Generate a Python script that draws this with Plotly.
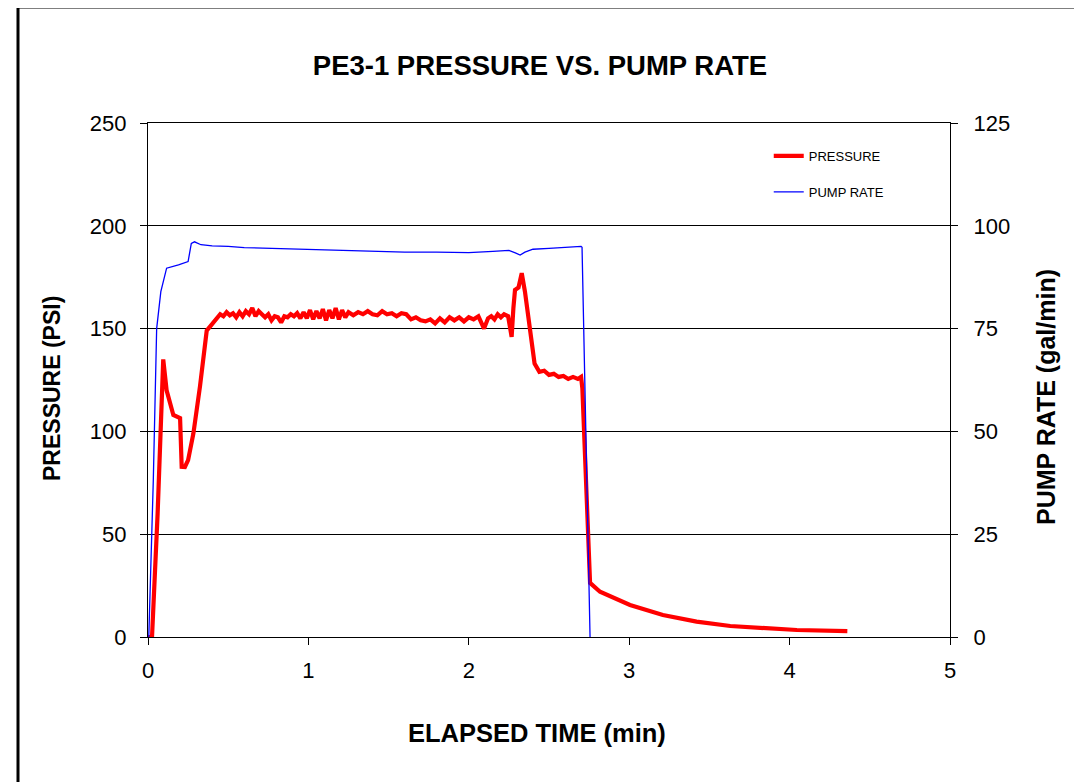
import plotly.graph_objects as go

# ---------------- data ----------------
pressure_t = [0.00, 0.025, 0.06, 0.095, 0.116, 0.158, 0.20, 0.21, 0.23, 0.25, 0.283, 0.324, 0.366, 0.43,
              0.45, 0.47, 0.49, 0.51, 0.53, 0.55, 0.57, 0.59, 0.61, 0.63, 0.65, 0.67, 0.69, 0.71, 0.73,
              0.75, 0.77, 0.79, 0.81, 0.83, 0.85, 0.87, 0.89, 0.91, 0.93, 0.95, 0.97, 0.99, 1.01, 1.03,
              1.05, 1.07, 1.09, 1.11, 1.13, 1.15, 1.17, 1.19, 1.21, 1.23, 1.25, 1.28, 1.31, 1.34, 1.37,
              1.40, 1.43, 1.46, 1.49, 1.52, 1.55, 1.58, 1.61, 1.64, 1.67, 1.70, 1.73, 1.76, 1.79, 1.82,
              1.85, 1.88, 1.91, 1.94, 1.97, 2.00, 2.03, 2.06, 2.08, 2.095, 2.12, 2.14, 2.16, 2.18, 2.20,
              2.22, 2.245, 2.258, 2.267, 2.278, 2.288, 2.31, 2.33, 2.35, 2.37, 2.39, 2.41, 2.44, 2.47,
              2.50, 2.53, 2.56, 2.59, 2.62, 2.65, 2.68, 2.70, 2.708, 2.756, 2.818, 3.005, 3.21, 3.42,
              3.63, 3.835, 4.045, 4.36]
pressure_psi = [0, 0, 60, 135, 120, 108, 106.5, 82.8, 82.7, 86, 99, 121.8, 149, 155,
                157, 156, 158, 156.5, 157.5, 155.5, 158, 156, 158.5, 157, 160, 156, 158.5, 157, 155.5,
                157, 154, 156, 155.5, 153, 156, 155.5, 157, 156, 157.5, 155, 158, 155, 159, 154.5,
                158.5, 155, 159.5, 154, 159, 155, 160, 154.5, 159, 155.5, 158, 156.5, 158, 157, 158.5,
                157, 156.5, 158.5, 157, 157.5, 156, 157.5, 157, 154.5, 155.5, 154, 153.5, 154.5, 152.5, 155,
                153, 155.5, 154, 155.5, 153.5, 155.5, 154.5, 156, 153, 150, 155, 156, 154.5, 157, 155.5,
                157, 156, 151, 146, 160, 168.8, 170, 177, 168, 157, 143, 133, 129, 129.5,
                127.5, 128, 126.5, 127, 125.5, 126.5, 125.5, 126.5, 121, 26.3, 22, 15.6, 10.7, 7.5,
                5.35, 4.2, 3.4, 2.9]

pump_t = [0.005, 0.033, 0.054, 0.08, 0.116, 0.15, 0.19, 0.25, 0.27, 0.29, 0.33, 0.40, 0.50, 0.60,
          0.80, 1.00, 1.20, 1.40, 1.60, 1.80, 2.00, 2.15, 2.25, 2.29, 2.32, 2.35, 2.40, 2.50, 2.60,
          2.70, 2.706, 2.756]
pump_gpm = [0, 38, 75, 84, 89.7, 90, 90.5, 91.3, 95.7, 96.1, 95.4, 95.1, 95.0, 94.7,
            94.5, 94.2, 94.0, 93.8, 93.6, 93.6, 93.5, 93.8, 94.0, 93.4, 92.9, 93.6, 94.3, 94.5, 94.7,
            95.0, 94.8, 0]

x_ticks = [0, 1, 2, 3, 4, 5]
y_ticks = [0, 50, 100, 150, 200, 250]
y2_ticks = [0, 25, 50, 75, 100, 125]

FONT = "Liberation Sans, Arial, sans-serif"
OFF = 8  # page body offset

fig = go.Figure()
fig.add_trace(go.Scatter(x=pressure_t, y=pressure_psi, mode="lines", name="PRESSURE",
                         line=dict(color="#FF0000", width=4.2), legendgroup="p"))
fig.add_trace(go.Scatter(x=pump_t, y=pump_gpm, mode="lines", name="PUMP RATE",
                         line=dict(color="#0000FF", width=1.3), yaxis="y2", legendgroup="q"))

axis_common = dict(showline=True, linecolor="black", linewidth=1.3, ticks="outside",
                   ticklen=7, tickcolor="black", tickwidth=1.3,
                   tickfont=dict(family=FONT, size=22, color="black"), zeroline=False)

fig.update_layout(
    width=1082, height=782,
    margin=dict(l=148 - OFF, r=1082 - (950 - OFF), t=123 - OFF, b=782 - (637 - OFF)),
    paper_bgcolor="white", plot_bgcolor="white",
    title=dict(text="<b>PE3-1 PRESSURE VS. PUMP RATE</b>", x=(540 - OFF) / 1082, xref="container",
               y=(782 - (65 - OFF)) / 782, yanchor="middle", yref="container",
               font=dict(family=FONT, size=27.5, color="black")),
    xaxis=dict(range=[0, 5], tickvals=x_ticks, showgrid=False, mirror=True,
               ticklabelstandoff=6, **axis_common),
    yaxis=dict(range=[0, 250], tickvals=y_ticks, showgrid=True, gridcolor="black", gridwidth=1,
               ticklabelstandoff=9, **axis_common),
    yaxis2=dict(range=[0, 125], tickvals=y2_ticks, overlaying="y", side="right", showgrid=False,
                ticklabelstandoff=11, **axis_common),
    showlegend=True,
    legend=dict(x=0.774, y=0.965, xanchor="left", yanchor="top", bgcolor="rgba(0,0,0,0)",
                font=dict(family=FONT, size=13, color="black"), tracegroupgap=16,
                traceorder="grouped"),
    annotations=[
        dict(text="<b>ELAPSED TIME (min)</b>", xref="paper", yref="paper", x=(537 - 148) / 802,
             y=(637 - 733) / 514, xanchor="center", yanchor="middle", showarrow=False,
             font=dict(family=FONT, size=25.5, color="black")),
        dict(text="<b>PRESSURE (PSI)</b>", xref="paper", yref="paper", x=(52 - 148) / 802,
             y=(637 - 389) / 514, xanchor="center", yanchor="middle", showarrow=False, textangle=-90,
             font=dict(family=FONT, size=23, color="black")),
        dict(text="<b>PUMP RATE (gal/min)</b>", xref="paper", yref="paper", x=(1046 - 148) / 802,
             y=(637 - 397) / 514, xanchor="center", yanchor="middle", showarrow=False, textangle=-90,
             font=dict(family=FONT, size=25, color="black")),
    ],
    shapes=[
        dict(type="line", xref="paper", yref="paper", x0=(18 - 148) / 802, x1=(18 - 148) / 802,
             y0=(637 - 800) / 514, y1=(637 - 7) / 514, line=dict(color="black", width=3)),
        dict(type="line", xref="paper", yref="paper", x0=(18 - 148) / 802, x1=(1100 - 148) / 802,
             y0=(637 - 7) / 514, y1=(637 - 7) / 514, line=dict(color="black", width=3)),
    ],
)

fig.write_html("out.html")
